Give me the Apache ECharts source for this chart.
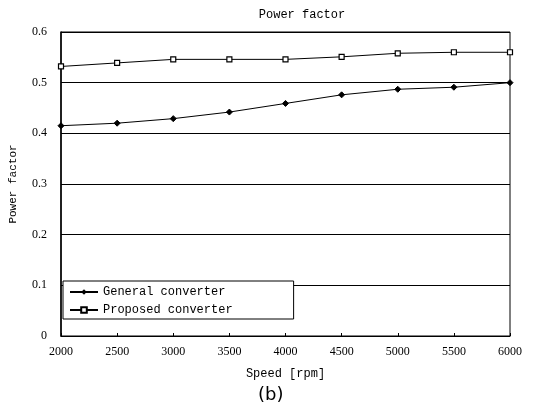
<!DOCTYPE html>
<html><head><meta charset="utf-8">
<script src="https://cdn.jsdelivr.net/npm/echarts@6/dist/echarts.min.js"></script>
<style>html,body{margin:0;padding:0;background:#fff}#c{width:536px;height:418px}</style>
</head><body><div id="c"></div>
<script>
var speeds = [2000, 2500, 3000, 3500, 4000, 4500, 5000, 5500, 6000];
var generalConverter = [0.415, 0.420, 0.429, 0.442, 0.459, 0.476, 0.487, 0.491, 0.500];
var proposedConverter = [0.532, 0.539, 0.546, 0.546, 0.546, 0.551, 0.558, 0.560, 0.560];
var yTicks = [0, 0.1, 0.2, 0.3, 0.4, 0.5, 0.6];

var font = '"Liberation Mono", "DejaVu Sans Mono", monospace';
var chart = echarts.init(document.getElementById('c'), null, {renderer: 'canvas'});
function pairs(v) { return speeds.map(function (s, i) { return [s, v[i]]; }); }
chart.setOption({
  animation: false,
  backgroundColor: '#fff',
  title: {
    text: 'Power factor', left: 297, top: 4, textAlign: 'center',
    textStyle: {fontFamily: font, fontSize: 12, fontWeight: 'normal', color: '#000'}
  },
  graphic: [{
    type: 'text', left: 258, top: 386,
    style: {text: '(b)', font: '18px "DejaVu Sans", sans-serif', fill: '#000'}
  }],
  legend: {
    orient: 'vertical', left: 63, top: 281,
    padding: [5, 61, 3, 6], itemGap: 6,
    borderColor: '#000', borderWidth: 1, backgroundColor: '#fff',
    itemWidth: 28, itemHeight: 7,
    textStyle: {fontFamily: font, fontSize: 12, color: '#000'},
    data: ['General converter', 'Proposed converter']
  },
  grid: {left: 60, right: 26, top: 32, bottom: 82, show: true, borderColor: '#000', borderWidth: 1},
  xAxis: {
    type: 'value', min: 2000, max: 6000, interval: 500,
    name: 'Speed [rpm]', nameLocation: 'middle', nameGap: 32,
    nameTextStyle: {fontFamily: font, fontSize: 12, color: '#000'},
    axisLine: {lineStyle: {color: '#000', width: 1}},
    axisTick: {inside: true, length: 3, lineStyle: {color: '#000'}},
    axisLabel: {fontFamily: '"Liberation Serif", serif', fontSize: 12, color: '#000', margin: 10,
      formatter: function (v) { return String(v); }},
    splitLine: {show: false}
  },
  yAxis: {
    type: 'value', min: 0, max: 0.6, interval: 0.1,
    name: 'Power factor', nameLocation: 'middle', nameGap: 42, nameRotate: 90,
    nameTextStyle: {fontFamily: font, fontSize: 11, color: '#000'},
    axisLine: {show: true, lineStyle: {color: '#000', width: 1.5}},
    axisTick: {show: false},
    axisLabel: {fontFamily: '"Liberation Serif", serif', fontSize: 12, color: '#000', margin: 14,
      formatter: function (v) { return v === 0 ? '0' : v.toFixed(1); }},
    splitLine: {show: true, lineStyle: {color: '#000', width: 1}}
  },
  series: [{
    name: 'General converter', type: 'line', data: pairs(generalConverter),
    symbol: 'diamond', symbolSize: 6,
    lineStyle: {color: '#000', width: 1}, itemStyle: {color: '#000', borderColor: '#000'}
  }, {
    name: 'Proposed converter', type: 'line', data: pairs(proposedConverter),
    symbol: 'rect', symbolSize: 5,
    lineStyle: {color: '#000', width: 1}, itemStyle: {color: '#fff', borderColor: '#000', borderWidth: 1.2}
  }]
});
</script></body></html>
